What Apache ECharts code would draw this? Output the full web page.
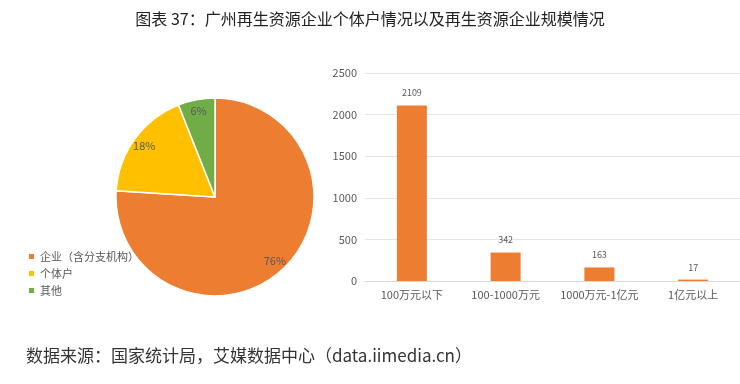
<!DOCTYPE html>
<html><head><meta charset="utf-8">
<script src="https://cdn.jsdelivr.net/npm/echarts@6/dist/echarts.min.js"></script>
<style>html,body{margin:0;padding:0;background:#fff}#c{width:740px;height:384px}</style>
</head><body><div id="c"></div>
<script>
var pieNames = ['企业（含分支机构）', '个体户', '其他'];
var pieValues = [76, 18, 6];
var pieColors = ['#ED7D31', '#FFC000', '#70AD47'];
var barCategories = ['100万元以下', '100-1000万元', '1000万元-1亿元', '1亿元以上'];
var barValues = [2109, 342, 163, 17];
var yTicks = [0, 500, 1000, 1500, 2000, 2500];

var font = '"Noto Sans CJK SC", "Noto Sans", sans-serif';
var chart = echarts.init(document.getElementById('c'));
chart.setOption({
  animation: false,
  textStyle: { fontFamily: font },
  title: [{
    text: '图表 37：广州再生资源企业个体户情况以及再生资源企业规模情况',
    left: 'center', top: 6,
    textStyle: { fontSize: 16, fontWeight: 'normal', color: '#222', fontFamily: font }
  }, {
    text: '数据来源：国家统计局，艾媒数据中心（data.iimedia.cn）',
    left: 21, top: 342,
    textStyle: { fontSize: 17, fontWeight: 'normal', color: '#333', fontFamily: font }
  }],
  legend: {
    orient: 'vertical', left: 22, top: 246,
    itemWidth: 7, itemHeight: 7, itemGap: 6, icon: 'rect',
    textStyle: { fontSize: 11, color: '#595959', fontFamily: font },
    data: pieNames.map(function (n, i) { return { name: n, itemStyle: { color: pieColors[i] } }; })
  },
  grid: { left: 365, right: 0, top: 73, bottom: 103 },
  xAxis: {
    type: 'category', data: barCategories,
    axisLine: { lineStyle: { color: '#D9D9D9' } },
    axisTick: { show: false },
    axisLabel: { interval: 0, fontSize: 11, color: '#595959', margin: 8, fontFamily: font }
  },
  yAxis: {
    type: 'value', min: yTicks[0], max: yTicks[yTicks.length - 1], interval: 500,
    axisLine: { show: false }, axisTick: { show: false },
    splitLine: { lineStyle: { color: '#E5E5E5' } },
    axisLabel: { fontSize: 11, color: '#595959', margin: 8, fontFamily: font,
      formatter: function (v) { return String(v); } }
  },
  series: [{
    type: 'pie', center: [215, 197], radius: 99, startAngle: 90, clockwise: true,
    data: pieNames.map(function (n, i) { return { name: n, value: pieValues[i], itemStyle: { color: pieColors[i] } }; }),
    itemStyle: { borderColor: '#fff', borderWidth: 1.5 },
    label: { show: false }, labelLine: { show: false }
  }, {
    type: 'pie', center: [215, 197], radius: [70, 99], startAngle: 90, clockwise: true, silent: true,
    data: pieNames.map(function (n, i) { return { name: n, value: pieValues[i] }; }),
    itemStyle: { color: 'rgba(0,0,0,0)', borderWidth: 0 },
    label: { position: 'inside', formatter: '{c}%', fontSize: 11, color: '#595959', fontFamily: font },
    labelLine: { show: false }, emphasis: { disabled: true }
  }, {
    type: 'bar', data: barValues, barWidth: 30,
    itemStyle: { color: '#ED7D31' },
    label: { show: true, position: 'top', distance: 8, fontSize: 9, color: '#595959', fontFamily: font }
  }]
});
</script></body></html>
